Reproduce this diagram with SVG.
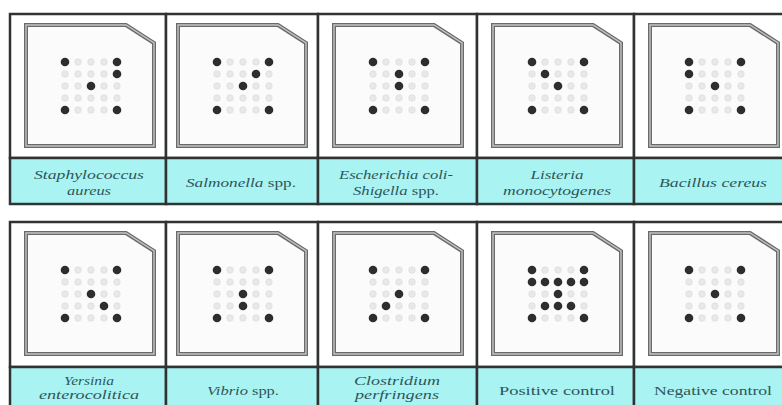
<svg xmlns="http://www.w3.org/2000/svg" xmlns:xlink="http://www.w3.org/1999/xlink" width="782" height="405" viewBox="0 0 782 405">
<style>
.cell{fill:#ffffff;stroke:#303333;stroke-width:2.5}
.band{fill:#aaf3f3;stroke:#303333;stroke-width:2.5}
.card-o{fill:#fbfbfb;stroke:#6a6a6a;stroke-width:4;stroke-linejoin:miter}
.card-i{fill:none;stroke:#c4c4c4;stroke-width:1.4}
.lt{fill:#e8e8e8;stroke:#dadada;stroke-width:0.6}
.dk{fill:#2e2e2e}
.lbl{font-family:"Liberation Serif","Times New Roman",serif;font-size:12.5px;font-style:italic;fill:#2d5658;text-anchor:middle}
.up{font-style:normal}
</style>
<defs>
<path id="cardpath" d="M0,0 H100 L128,18 V121 H0 Z"/>
<g id="card">
<use xlink:href="#cardpath" href="#cardpath" class="card-o"/>
<use xlink:href="#cardpath" href="#cardpath" class="card-i"/>
</g>
<g id="grid">
<circle class="lt" cx="-26" cy="-24" r="3.3"/><circle class="lt" cx="-13" cy="-24" r="3.3"/><circle class="lt" cx="0" cy="-24" r="3.3"/><circle class="lt" cx="13" cy="-24" r="3.3"/><circle class="lt" cx="26" cy="-24" r="3.3"/>
<circle class="lt" cx="-26" cy="-12" r="3.3"/><circle class="lt" cx="-13" cy="-12" r="3.3"/><circle class="lt" cx="0" cy="-12" r="3.3"/><circle class="lt" cx="13" cy="-12" r="3.3"/><circle class="lt" cx="26" cy="-12" r="3.3"/>
<circle class="lt" cx="-26" cy="0" r="3.3"/><circle class="lt" cx="-13" cy="0" r="3.3"/><circle class="lt" cx="0" cy="0" r="3.3"/><circle class="lt" cx="13" cy="0" r="3.3"/><circle class="lt" cx="26" cy="0" r="3.3"/>
<circle class="lt" cx="-26" cy="12" r="3.3"/><circle class="lt" cx="-13" cy="12" r="3.3"/><circle class="lt" cx="0" cy="12" r="3.3"/><circle class="lt" cx="13" cy="12" r="3.3"/><circle class="lt" cx="26" cy="12" r="3.3"/>
<circle class="lt" cx="-26" cy="24" r="3.3"/><circle class="lt" cx="-13" cy="24" r="3.3"/><circle class="lt" cx="0" cy="24" r="3.3"/><circle class="lt" cx="13" cy="24" r="3.3"/><circle class="lt" cx="26" cy="24" r="3.3"/>
<circle class="dk" cx="-26" cy="-24" r="4.3"/><circle class="dk" cx="26" cy="-24" r="4.3"/>
<circle class="dk" cx="0" cy="0" r="4.3"/>
<circle class="dk" cx="-26" cy="24" r="4.3"/><circle class="dk" cx="26" cy="24" r="4.3"/>
</g>
<circle id="d" class="dk" r="4.3"/>
</defs>

<rect x="0" y="0" width="782" height="405" fill="#ffffff"/>

<!-- Row 1 -->
<g id="cell-staphylococcus">
<rect class="cell" x="10" y="14" width="156" height="144"/>
<rect class="band" x="10" y="158" width="156" height="46"/>
<use xlink:href="#card" href="#card" x="26" y="25"/>
<g transform="translate(91,86)"><use xlink:href="#grid" href="#grid"/><use xlink:href="#d" href="#d" x="26" y="-12"/></g>
<text class="lbl" x="89" y="179" textLength="110" lengthAdjust="spacingAndGlyphs">Staphylococcus</text>
<text class="lbl" x="89" y="195" textLength="44" lengthAdjust="spacingAndGlyphs">aureus</text>
</g>

<g id="cell-salmonella">
<rect class="cell" x="166" y="14" width="152" height="144"/>
<rect class="band" x="166" y="158" width="152" height="46"/>
<use xlink:href="#card" href="#card" x="178" y="25"/>
<g transform="translate(243,86)"><use xlink:href="#grid" href="#grid"/><use xlink:href="#d" href="#d" x="13" y="-12"/></g>
<text class="lbl" x="241" y="187" textLength="110" lengthAdjust="spacingAndGlyphs">Salmonella <tspan class="up">spp.</tspan></text>
</g>

<g id="cell-escherichia">
<rect class="cell" x="318" y="14" width="159" height="144"/>
<rect class="band" x="318" y="158" width="159" height="46"/>
<use xlink:href="#card" href="#card" x="334" y="25"/>
<g transform="translate(399,86)"><use xlink:href="#grid" href="#grid"/><use xlink:href="#d" href="#d" x="0" y="-12"/></g>
<text class="lbl" x="396" y="179" textLength="114" lengthAdjust="spacingAndGlyphs">Escherichia coli-</text>
<text class="lbl" x="396" y="195" textLength="86" lengthAdjust="spacingAndGlyphs">Shigella <tspan class="up">spp.</tspan></text>
</g>

<g id="cell-listeria">
<rect class="cell" x="477" y="14" width="157" height="144"/>
<rect class="band" x="477" y="158" width="157" height="46"/>
<use xlink:href="#card" href="#card" x="493" y="25"/>
<g transform="translate(558,86)"><use xlink:href="#grid" href="#grid"/><use xlink:href="#d" href="#d" x="-13" y="-12"/></g>
<text class="lbl" x="557" y="179" textLength="53" lengthAdjust="spacingAndGlyphs">Listeria</text>
<text class="lbl" x="557" y="195" textLength="108" lengthAdjust="spacingAndGlyphs">monocytogenes</text>
</g>

<g id="cell-bacillus">
<rect class="cell" x="634" y="14" width="160" height="144"/>
<rect class="band" x="634" y="158" width="160" height="46"/>
<use xlink:href="#card" href="#card" x="650" y="25"/>
<g transform="translate(715,86)"><use xlink:href="#grid" href="#grid"/><use xlink:href="#d" href="#d" x="-26" y="-12"/></g>
<text class="lbl" x="713" y="187" textLength="108" lengthAdjust="spacingAndGlyphs">Bacillus cereus</text>
</g>

<!-- Row 2 -->
<g id="cell-yersinia">
<rect class="cell" x="10" y="222" width="156" height="145"/>
<rect class="band" x="10" y="367" width="156" height="46"/>
<use xlink:href="#card" href="#card" x="26" y="233"/>
<g transform="translate(91,294)"><use xlink:href="#grid" href="#grid"/><use xlink:href="#d" href="#d" x="13" y="12"/></g>
<text class="lbl" x="89" y="385" textLength="50" lengthAdjust="spacingAndGlyphs">Yersinia</text>
<text class="lbl" x="89" y="399" textLength="100" lengthAdjust="spacingAndGlyphs">enterocolitica</text>
</g>

<g id="cell-vibrio">
<rect class="cell" x="166" y="222" width="152" height="145"/>
<rect class="band" x="166" y="367" width="152" height="46"/>
<use xlink:href="#card" href="#card" x="178" y="233"/>
<g transform="translate(243,294)"><use xlink:href="#grid" href="#grid"/><use xlink:href="#d" href="#d" x="0" y="12"/></g>
<text class="lbl" x="243" y="395" textLength="72" lengthAdjust="spacingAndGlyphs">Vibrio <tspan class="up">spp.</tspan></text>
</g>

<g id="cell-clostridium">
<rect class="cell" x="318" y="222" width="159" height="145"/>
<rect class="band" x="318" y="367" width="159" height="46"/>
<use xlink:href="#card" href="#card" x="334" y="233"/>
<g transform="translate(399,294)"><use xlink:href="#grid" href="#grid"/><use xlink:href="#d" href="#d" x="-13" y="12"/></g>
<text class="lbl" x="397" y="385" textLength="86" lengthAdjust="spacingAndGlyphs">Clostridium</text>
<text class="lbl" x="397" y="399" textLength="84" lengthAdjust="spacingAndGlyphs">perfringens</text>
</g>

<g id="cell-positive">
<rect class="cell" x="477" y="222" width="157" height="145"/>
<rect class="band" x="477" y="367" width="157" height="46"/>
<use xlink:href="#card" href="#card" x="493" y="233"/>
<g transform="translate(558,294)"><use xlink:href="#grid" href="#grid"/>
<use xlink:href="#d" href="#d" x="-26" y="-12"/><use xlink:href="#d" href="#d" x="-13" y="-12"/><use xlink:href="#d" href="#d" x="0" y="-12"/><use xlink:href="#d" href="#d" x="13" y="-12"/><use xlink:href="#d" href="#d" x="26" y="-12"/>
<use xlink:href="#d" href="#d" x="-13" y="12"/><use xlink:href="#d" href="#d" x="0" y="12"/><use xlink:href="#d" href="#d" x="13" y="12"/>
</g>
<text class="lbl up" x="557" y="395" textLength="116" lengthAdjust="spacingAndGlyphs">Positive control</text>
</g>

<g id="cell-negative">
<rect class="cell" x="634" y="222" width="160" height="145"/>
<rect class="band" x="634" y="367" width="160" height="46"/>
<use xlink:href="#card" href="#card" x="650" y="233"/>
<g transform="translate(715,294)"><use xlink:href="#grid" href="#grid"/></g>
<text class="lbl up" x="713" y="395" textLength="118" lengthAdjust="spacingAndGlyphs">Negative control</text>
</g>

<g id="connectors"></g>
</svg>
